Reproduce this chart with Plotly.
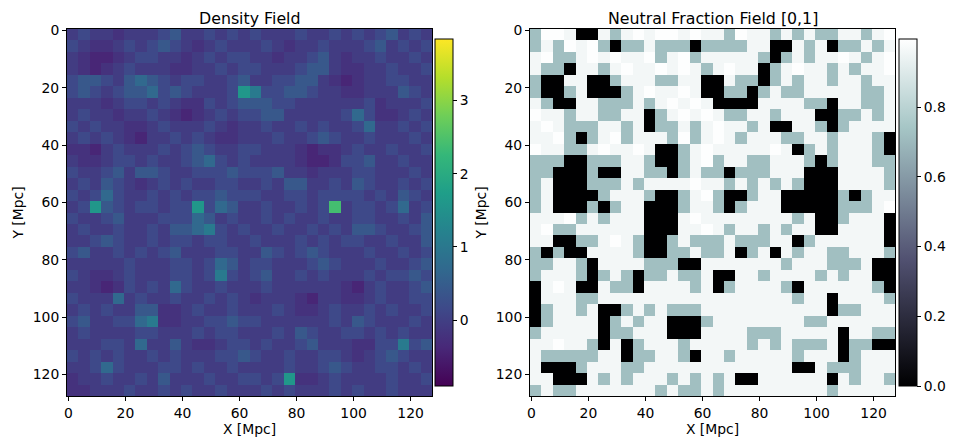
import plotly.graph_objects as go

# 128x128 fields on a coarse 32x32 grid (one char = 4x4 cells)
# density: digit -> level, quadrants top-left / top-right / bottom-left / bottom-right
density_tl = ["3433233345334343", "4322343454323433", "3211234433234344", "3212343332233434",
              "4554356543443345", "4543455645433348", "3332344343224345", "3433233432123434",
              "4343322343334323", "3434321334343223", "2213433343454334", "3223443433456434",
              "4334535543344454", "3435432343433443", "4346433434344544", "3485434434484653"]
density_tr = ["4333433434345343", "3432334333453434", "3323345323343343", "4333455322334334",
              "3344553212334433", "7445543322333543", "5544333333423334", "4553333346422343",
              "3433434334633434", "3343345433433343", "4333212234334334", "3333211244533433",
              "4453323334433343", "3435533435433434", "4334434444343543", "3433434934434634"]
density_bl = ["4334533344465343", "3433433435567434", "3345433434434433", "4533434345333443",
              "3333343334434653", "4322343334434743", "3321243436433433", "4333634334334343",
              "3434335522343343", "4533446722334454", "3433334433343443", "3334436335322344",
              "4343433434333445", "3346433344343343", "2334334353334334", "2233343343433433"]
density_br = ["3434334334433435", "3343343435543345", "4333434344334335", "3543454333433434",
              "4433345433343345", "4533434333434454", "3433333321343345", "2333213322343344",
              "3343223433434334", "4333333435433343", "3343543344343433", "3433453332244745",
              "4334334432345433", "3334334543344343", "4348223433334334", "3434333434334333"]
density_levels = {"0": -0.55, "1": -0.4, "2": -0.22, "3": -0.05, "4": 0.15,
                  "5": 0.4, "6": 0.7, "7": 1.05, "8": 1.6, "9": 2.4}

# neutral fraction: '#' neutral (0), '+' partly neutral, '-' ionised with specks, '.' ionised
neutral_tl = ["+..-##-+-.-..-.-", "+-+.-.+#++-+++#+", "-.++-.-.--.+-.+-", "-++#--+-.--.-.-+",
              "+##--##+---++--#", "+##+-###+-.--.-#", "-+##--+++-+-.-.-", ".--+--++--#+-.-.",
              "-.-+++--+-#++-+-", "--.+#+-.+---+.+-", ".--++-.--.-##+-.", "+++##+++--+##+-.",
              "++###+##--++#+-+", "+-###+++-+----.-", "+-####+---+##+-.", "+-###+#+--###+--"]
neutral_tr = ["-+.--+-+-++--+-.", "+++--##-+-#++-+-", "----+#+-+--.-+-.", "-.--#+-.--+-+--.",
              "#-++#+-+--+--+--", "#++#+-++-----++-", "####----++#--++-", "-++--+---##++-+-",
              ".--+-##--+#+----", ".-+---++--+---+#", "-----.-#+-+---+#", "+--++---+#+---++",
              "+#+++---###----+", "-+-+-+-+###----+", "+##+--#####+#+--", "+#+---#####+++-."]
neutral_bl = ["---.+-+---###-.-", "-.++------###--.", "--##++-.-+##+-++", "+#+##----+##++-+",
              "++--+#----+++##-", "+---+#+-+#++-++-", "#-.-##-++#----+-", "#---++----------",
              "#+--+-##+-+-+++-", "#+----#+-+--###+", "+-----#++---###-", "--.--+#-#+---+--",
              "-+++++--#++--+#-", "-###+---++------", "--###-+-+---+-+-", "+-++-------+-++-"]
neutral_br = ["-------+-##+---#", "-+--+-+--##----#", "+-+++--#+------#", "+-#+-#-+--++---+",
              "------+---+++-##", "##--+----+-+--##", "#+----+#------+#", "-------+--#----+",
              "----------#++---", "--------++------", "---+++-----#--++", "---+-+-+++-#++##",
              "-+-----+---#+---", "-------##-+++---", "+-##------#-+--+", "+---------+-----"]
neutral_levels = {"#": 0.0, "+": 0.72, "-": 0.96, ".": 0.99}

axis_ticks = [0, 20, 40, 60, 80, 100, 120]
density_cbar_ticks = [0, 1, 2, 3]
neutral_cbar_ticks = [0.0, 0.2, 0.4, 0.6, 0.8]


def build(top_l, top_r, bot_l, bot_r, levels):
    rows = [a + b for a, b in zip(top_l, top_r)] + [a + b for a, b in zip(bot_l, bot_r)]
    return [[levels[c] for c in r] for r in rows]


density = build(density_tl, density_tr, density_bl, density_br, density_levels)
neutral = build(neutral_tl, neutral_tr, neutral_bl, neutral_br, neutral_levels)
centres = [4 * k + 1.5 for k in range(32)]

bone = [[0.0, "rgb(0,0,1)"], [0.365, "rgb(81,81,113)"],
        [0.746, "rgb(166,198,198)"], [1.0, "rgb(255,255,255)"]]

# the page body has an 8px margin, so the figure is 16px smaller and shifted
OFF = 8
W, H = 960 - 2 * OFF, 448 - 2 * OFF
FONT = "DejaVu Sans"
SMALL = 13.9


def px(x):  # page x -> paper fraction
    return (x - OFF) / W


def py(y):  # page y (from top) -> paper fraction
    return 1 - (y - OFF) / H


def cbar(x0, ticks, fmt):
    return dict(x=px(x0), xanchor="left", xpad=0, y=py(396), yanchor="bottom",
                len=py(29) - py(396), lenmode="fraction", thickness=18, thicknessmode="pixels",
                outlinewidth=1, outlinecolor="black", ticks="outside", ticklen=4,
                tickcolor="black", tickvals=ticks, tickformat=fmt,
                tickfont=dict(size=SMALL, color="black", family=FONT))


fig = go.Figure()
fig.add_trace(go.Heatmap(z=density, x=centres, y=centres, colorscale="Viridis",
                         zmin=-0.9, zmax=3.84, xaxis="x", yaxis="y",
                         colorbar=cbar(435, density_cbar_ticks, "d")))
fig.add_trace(go.Heatmap(z=neutral, x=centres, y=centres, colorscale=bone,
                         zmin=0.0, zmax=0.995, xaxis="x2", yaxis="y2",
                         colorbar=cbar(899, neutral_cbar_ticks, ".1f")))


def xax(d0, d1, anchor):
    return dict(domain=[px(d0), px(d1)], anchor=anchor, range=[-0.5, 127.5],
                tickvals=axis_ticks, ticks="outside", ticklen=4, tickcolor="black",
                showline=True, linecolor="black", mirror=True, showgrid=False, zeroline=False,
                tickfont=dict(size=SMALL, color="black", family=FONT),
                title=dict(text="X [Mpc]", standoff=3, font=dict(size=SMALL, color="black", family=FONT)))


def yax(anchor):
    return dict(domain=[py(396), py(29)], anchor=anchor, range=[127.5, -0.5],
                tickvals=axis_ticks, ticks="outside", ticklen=4, tickcolor="black",
                showline=True, linecolor="black", mirror=True, showgrid=False, zeroline=False,
                tickfont=dict(size=SMALL, color="black", family=FONT),
                title=dict(text="Y [Mpc]", standoff=5, font=dict(size=SMALL, color="black", family=FONT)))


def title(text, x):
    return dict(text=text, x=px(x), y=py(29), xref="paper", yref="paper", showarrow=False,
                xanchor="center", yanchor="bottom", borderpad=0,
                font=dict(size=15.8, color="black", family=FONT))


fig.update_layout(
    width=W, height=H, margin=dict(l=0, r=0, t=0, b=0, autoexpand=False),
    paper_bgcolor="white", plot_bgcolor="white",
    font=dict(family=FONT, color="black"),
    xaxis=xax(67, 432, "y"), yaxis=yax("x"),
    xaxis2=xax(530, 895, "y2"), yaxis2=yax("x2"),
    annotations=[title("Density Field", 249.5), title("Neutral Fraction Field [0,1]", 712.5)],
)

fig.write_html("out.html")
